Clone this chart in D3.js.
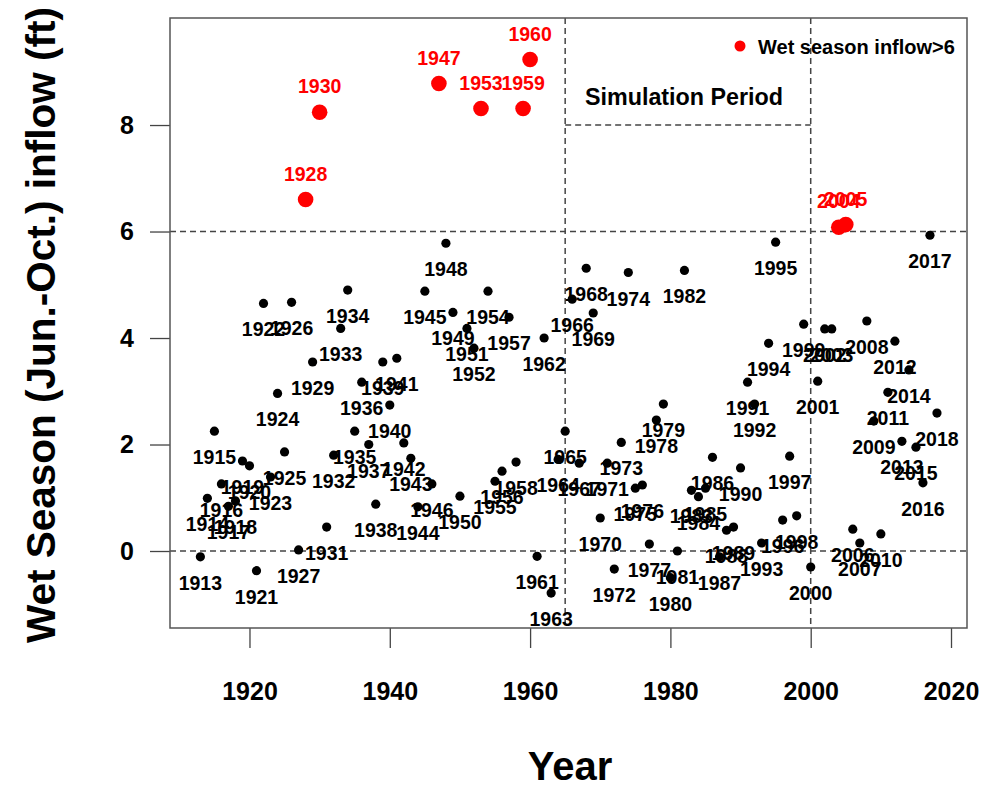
<!DOCTYPE html>
<html><head><meta charset="utf-8">
<script src="https://cdn.jsdelivr.net/npm/d3@7"></script>
<style>
body{margin:0;background:#fff;}
text{font-family:"Liberation Sans",Arial,sans-serif;font-weight:bold;}
</style></head>
<body><svg id="c" width="983" height="787"></svg>
<script>
const years = [1913,1914,1915,1916,1917,1918,1919,1920,1921,1922,1923,1924,1925,1926,1927,1928,1929,1930,
1931,1932,1933,1934,1935,1936,1937,1938,1939,1940,1941,1942,1943,1944,1945,1946,1947,1948,1949,1950,
1951,1952,1953,1954,1955,1956,1957,1958,1959,1960,1961,1962,1963,1964,1965,1966,1967,1968,1969,1970,
1971,1972,1973,1974,1975,1976,1977,1978,1979,1980,1981,1982,1983,1984,1985,1986,1987,1988,1989,1990,
1991,1992,1993,1994,1995,1996,1997,1998,1999,2000,2001,2002,2003,2004,2005,2006,2007,2008,2009,2010,
2011,2012,2013,2014,2015,2016,2017,2018];
const inflow = [-0.11,0.99,2.25,1.26,0.84,0.94,1.69,1.60,-0.37,4.65,1.39,2.96,1.86,4.67,0.02,6.60,3.55,8.24,
0.45,1.80,4.18,4.90,2.25,3.17,2.00,0.88,3.55,2.74,3.62,2.03,1.74,0.83,4.88,1.26,8.78,5.78,4.48,1.03,
4.18,3.81,8.31,4.88,1.31,1.50,4.39,1.67,8.31,9.23,-0.10,4.00,-0.79,1.72,2.25,4.73,1.65,5.31,4.47,0.62,
1.65,-0.34,2.04,5.23,1.18,1.24,0.13,2.46,2.76,-0.50,0.00,5.27,1.14,1.02,1.18,1.76,-0.11,0.39,0.45,1.56,
3.17,2.76,0.15,3.90,5.80,0.58,1.78,0.66,4.26,-0.30,3.19,4.17,4.17,6.08,6.13,0.41,0.15,4.32,2.44,0.32,
2.98,3.94,2.06,3.40,1.95,1.28,5.93,2.59];
const xTicks = [1920,1940,1960,1980,2000,2020];
const yTicks = [0,2,4,6,8];
const threshold = 6;
const simPeriod = [1965,2000];
const simTop = 8;
const xTitle = "Year";
const yTitle = "Wet Season (Jun.-Oct.) inflow (ft)";
const legendText = "Wet season inflow>6";
const simText = "Simulation Period";

const svg = d3.select("#c");
const L=170,R=967,T=18,B=628;
const x = d3.scaleLinear().domain([1908.67,2022.28]).range([L,R]);
const y = d3.scaleLinear().domain([-1.446,10.01]).range([B,T]);
const data = years.map((yr,i)=>({yr, v:inflow[i]}));
const dashC="#444", dashA="6,4";

// reference lines
const g = svg.append("g");
g.append("line").attr("x1",L).attr("x2",R).attr("y1",y(threshold)).attr("y2",y(threshold));
g.append("line").attr("x1",L).attr("x2",R).attr("y1",y(0)).attr("y2",y(0));
simPeriod.forEach(v=>g.append("line").attr("x1",x(v)).attr("x2",x(v)).attr("y1",T).attr("y2",B));
g.append("line").attr("x1",x(simPeriod[0])).attr("x2",x(simPeriod[1])).attr("y1",y(simTop)).attr("y2",y(simTop));
g.selectAll("line").attr("stroke",dashC).attr("stroke-width",1.5).attr("stroke-dasharray",dashA);

// axes
const xa = svg.append("g").attr("transform",`translate(0,${B})`)
  .call(d3.axisBottom(x).tickValues(xTicks).tickFormat(d3.format("d")).tickSize(20).tickPadding(34));
const ya = svg.append("g").attr("transform",`translate(${L},0)`)
  .call(d3.axisLeft(y).tickValues(yTicks).tickSize(20).tickPadding(16));
[xa,ya].forEach(a=>{
  a.select(".domain").remove();
  a.selectAll(".tick line").attr("stroke","#444").attr("stroke-width",1.3);
  a.selectAll(".tick text").attr("font-size",25).attr("fill","#000")
   .style("font-family","'Liberation Sans',Arial,sans-serif").style("font-weight","bold");
});

svg.append("rect").attr("x",L).attr("y",T).attr("width",R-L).attr("height",B-T)
  .attr("fill","none").attr("stroke","#555").attr("stroke-width",1.5);

// black points
const low = data.filter(d=>d.v<=threshold), high = data.filter(d=>d.v>threshold);
svg.append("g").selectAll("circle").data(low).join("circle")
  .attr("cx",d=>x(d.yr)).attr("cy",d=>y(d.v)).attr("r",4.6).attr("fill","#000");
svg.append("g").selectAll("text").data(low).join("text")
  .attr("x",d=>x(d.yr)).attr("y",d=>y(d.v)+26).attr("dy","0.36em")
  .attr("text-anchor","middle").attr("font-size",19.5).attr("fill","#000").text(d=>d.yr);

// red points
svg.append("g").selectAll("circle").data(high).join("circle")
  .attr("cx",d=>x(d.yr)).attr("cy",d=>y(d.v)).attr("r",7.8).attr("fill","#ff0000");
svg.append("g").selectAll("text").data(high).join("text")
  .attr("x",d=>x(d.yr)).attr("y",d=>y(d.v)-26).attr("dy","0.36em")
  .attr("text-anchor","middle").attr("font-size",19.5).attr("fill","#ff0000").text(d=>d.yr);

// simulation label
svg.append("text").attr("x",684).attr("y",97).attr("dy","0.36em")
  .attr("text-anchor","middle").attr("font-size",23.3).attr("fill","#000").text(simText);

// legend
svg.append("circle").attr("cx",740).attr("cy",46).attr("r",5.5).attr("fill","#ff0000");
svg.append("text").attr("x",758).attr("y",47).attr("dy","0.36em").attr("font-size",20).attr("fill","#000").text(legendText);

// titles
svg.append("text").attr("x",570).attr("y",766).attr("dy","0.36em").attr("text-anchor","middle")
  .attr("font-size",40).attr("fill","#000").text(xTitle);
svg.append("text").attr("transform",`translate(40,325) rotate(-90)`).attr("dy","0.36em")
  .attr("text-anchor","middle").attr("font-size",40.5).attr("fill","#000").text(yTitle);
</script></body></html>
